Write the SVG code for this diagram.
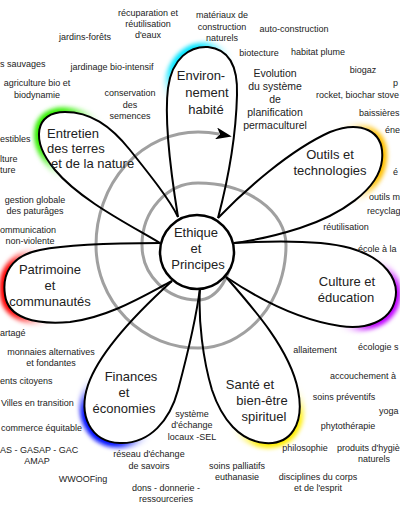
<svg xmlns="http://www.w3.org/2000/svg" xmlns:xlink="http://www.w3.org/1999/xlink" width="400" height="516" viewBox="0 0 400 516">
<style>
.petal{fill:none;stroke:#000;stroke-width:2}
.glow{fill:none;stroke-width:10;filter:url(#blur)}
.spiral{fill:none;stroke:#a0a0a0;stroke-width:3}
.lbl{font-family:"Liberation Sans",Arial,sans-serif;font-size:13px;fill:#222;text-anchor:middle}
.s{font-family:"Liberation Sans",Arial,sans-serif;font-size:9px;fill:#222;text-anchor:middle}
.l{text-anchor:start}
.m{font-family:"Liberation Sans",Arial,sans-serif;font-size:10.5px;fill:#222;text-anchor:middle}
</style>
<defs>
<filter id="blur" x="-20%" y="-20%" width="140%" height="140%"><feGaussianBlur stdDeviation="2.2"/></filter>
<filter id="soft" x="-50%" y="-50%" width="200%" height="200%"><feGaussianBlur stdDeviation="9"/></filter>
<marker id="arr" viewBox="0 0 16 12" refX="3" refY="6" markerWidth="16" markerHeight="12" markerUnits="userSpaceOnUse" orient="auto"><path d="M0,0 L16,6 L0,12 L4,6 Z" fill="#000"/></marker>
<path id="pEnv" d="M178,217 C172,180 164,120 168,88 C172,58 190,46 208,47 C228,49 238,65 237,95 C236,135 228,180 218,218"/>
<path id="pEnt" d="M160,243 C130,225 80,200 55,170 C30,140 35,112 65,112 C90,112 110,125 130,150 C150,175 170,200 178,217"/>
<path id="pOut" d="M218,218 C245,190 290,150 330,132 C360,120 385,130 382,160 C379,190 340,215 300,228 C275,236 258,240 234,243"/>
<path id="pCul" d="M234,243 C270,241 320,240 350,248 C385,258 400,280 395,300 C390,322 365,330 340,326 C300,320 260,300 226,277"/>
<path id="pSan" d="M226,277 C255,310 290,350 298,390 C305,425 290,445 265,443 C240,441 222,420 212,390 C203,360 198,320 200,288"/>
<path id="pFin" d="M172,281 C140,310 100,350 88,385 C78,415 90,442 120,443 C150,444 170,420 178,390 C186,360 196,320 200,288"/>
<path id="pPat" d="M160,243 C120,243 70,244 40,250 C10,256 2,275 5,295 C8,318 35,325 70,322 C110,317 145,295 172,281"/>
<mask id="mEnv" maskUnits="userSpaceOnUse" x="0" y="0" width="400" height="516"><circle cx="186" cy="58" r="30" fill="#fff" filter="url(#soft)"/><use xlink:href="#pEnv" fill="#000"/></mask>
<mask id="mEnt" maskUnits="userSpaceOnUse" x="0" y="0" width="400" height="516"><circle cx="48" cy="128" r="36" fill="#fff" filter="url(#soft)"/><use xlink:href="#pEnt" fill="#000"/></mask>
<mask id="mOut" maskUnits="userSpaceOnUse" x="0" y="0" width="400" height="516"><circle cx="382" cy="158" r="36" fill="#fff" filter="url(#soft)"/><use xlink:href="#pOut" fill="#000"/></mask>
<mask id="mCul" maskUnits="userSpaceOnUse" x="0" y="0" width="400" height="516"><circle cx="390" cy="310" r="36" fill="#fff" filter="url(#soft)"/><use xlink:href="#pCul" fill="#000"/></mask>
<mask id="mSan" maskUnits="userSpaceOnUse" x="0" y="0" width="400" height="516"><circle cx="283" cy="438" r="36" fill="#fff" filter="url(#soft)"/><use xlink:href="#pSan" fill="#000"/></mask>
<mask id="mFin" maskUnits="userSpaceOnUse" x="0" y="0" width="400" height="516"><circle cx="98" cy="430" r="36" fill="#fff" filter="url(#soft)"/><use xlink:href="#pFin" fill="#000"/></mask>
<mask id="mPat" maskUnits="userSpaceOnUse" x="0" y="0" width="400" height="516"><circle cx="8" cy="290" r="36" fill="#fff" filter="url(#soft)"/><use xlink:href="#pPat" fill="#000"/></mask>
</defs>
<rect width="400" height="516" fill="#fff"/>

<g id="connectors">
<path class="spiral" marker-end="url(#arr)" d="M233,245 A35,55 0 0 1 198,300 A56,55 0 0 1 142,245 A56,62 0 0 1 198,183 A88,62 0 0 1 286,245 A88,103 0 0 1 198,348 A102,103 0 0 1 96,245 A102,113 0 0 1 198,132 A110,113 0 0 1 219,134"/>
</g>

<g id="environnement">
<use xlink:href="#pEnv" class="glow" stroke="#00e5ff" mask="url(#mEnv)"/>
<use xlink:href="#pEnv" class="petal"/>
<text class="lbl" x="201" y="80">Environ-</text>
<text class="lbl" x="207" y="97">nement</text>
<text class="lbl" x="206" y="114">habité</text>
</g>
<g id="entretien">
<use xlink:href="#pEnt" class="glow" stroke="#30f000" mask="url(#mEnt)"/>
<use xlink:href="#pEnt" class="petal"/>
<text class="lbl l" x="47" y="138">Entretien</text>
<text class="lbl l" x="47" y="153">des terres</text>
<text class="lbl l" x="51" y="168">et de la nature</text>
</g>
<g id="outils">
<use xlink:href="#pOut" class="glow" stroke="#ffc000" mask="url(#mOut)"/>
<use xlink:href="#pOut" class="petal"/>
<text class="lbl" x="330" y="159">Outils et</text>
<text class="lbl" x="330" y="175">technologies</text>
</g>
<g id="culture">
<use xlink:href="#pCul" class="glow" stroke="#c000ff" mask="url(#mCul)"/>
<use xlink:href="#pCul" class="petal"/>
<text class="lbl" x="347" y="286">Culture et</text>
<text class="lbl" x="346" y="302">éducation</text>
</g>
<g id="sante">
<use xlink:href="#pSan" class="glow" stroke="#ffee00" mask="url(#mSan)"/>
<use xlink:href="#pSan" class="petal"/>
<text class="lbl" x="250" y="389">Santé et</text>
<text class="lbl" x="262" y="405">bien-être</text>
<text class="lbl" x="264" y="421">spirituel</text>
</g>
<g id="finances">
<use xlink:href="#pFin" class="glow" stroke="#0010ff" mask="url(#mFin)"/>
<use xlink:href="#pFin" class="petal"/>
<text class="lbl" x="131" y="381">Finances</text>
<text class="lbl" x="124" y="397">et</text>
<text class="lbl" x="124" y="413">économies</text>
</g>
<g id="patrimoine">
<use xlink:href="#pPat" class="glow" stroke="#ff0000" mask="url(#mPat)"/>
<use xlink:href="#pPat" class="petal"/>
<text class="lbl" x="50" y="274">Patrimoine</text>
<text class="lbl" x="50" y="290">et</text>
<text class="lbl" x="50" y="306">communautés</text>
</g>
<g id="ethique">
<circle cx="197" cy="252" r="37" fill="#fff" stroke="#000" stroke-width="2.5"/>
<text class="lbl" x="196" y="237">Ethique</text>
<text class="lbl" x="196" y="253">et</text>
<text class="lbl" x="198" y="269">Principes</text>
</g>
<g id="evolution">
<text class="m" x="275" y="77">Evolution</text>
<text class="m" x="275" y="90">du système</text>
<text class="m" x="275" y="103">de</text>
<text class="m" x="275" y="116">planification</text>
<text class="m" x="275" y="129">permaculturel</text>
</g>
<g id="keywords">
<text class="s" x="148" y="16">récuparation et</text>
<text class="s" x="148" y="27">réutilisation</text>
<text class="s" x="148" y="38">d'eaux</text>
<text class="s" x="85" y="40">jardins-forêts</text>
<text class="s l" x="0" y="67">s sauvages</text>
<text class="s" x="112" y="70">jardinage bio-intensif</text>
<text class="s" x="37" y="86">agriculture bio et</text>
<text class="s" x="37" y="98">biodynamie</text>
<text class="s" x="130" y="96">conservation</text>
<text class="s" x="130" y="108">des</text>
<text class="s" x="130" y="119">semences</text>
<text class="s" x="222" y="18">matériaux de</text>
<text class="s" x="222" y="30">construction</text>
<text class="s" x="222" y="41">naturels</text>
<text class="s" x="294" y="32">auto-construction</text>
<text class="s" x="259" y="56">biotecture</text>
<text class="s" x="318" y="55">habitat plume</text>
<text class="s" x="363" y="73">biogaz</text>
<text class="s l" x="393" y="86">p</text>
<text class="s l" x="316" y="98">rocket, biochar stove</text>
<text class="s l" x="359" y="116">baissières</text>
<text class="s l" x="385" y="133">éne</text>
<text class="s l" x="393" y="175">é</text>
<text class="s l" x="369" y="200">outils m</text>
<text class="s l" x="367" y="214">recyclag</text>
<text class="s" x="346" y="230">réutilisation</text>
<text class="s l" x="358" y="252">école à la</text>
<text class="s l" x="0" y="142">estibles</text>
<text class="s l" x="0" y="162">lture</text>
<text class="s l" x="0" y="173">ture</text>
<text class="s" x="35" y="203">gestion globale</text>
<text class="s" x="35" y="214">des paturâges</text>
<text class="s l" x="0" y="233">ommunication</text>
<text class="s" x="30" y="244">non-violente</text>
<text class="s l" x="0" y="336">artagé</text>
<text class="s" x="51" y="355">monnaies alternatives</text>
<text class="s" x="51" y="366">et fondantes</text>
<text class="s l" x="0" y="384">ents citoyens</text>
<text class="s l" x="1" y="406">Villes en transition</text>
<text class="s l" x="1" y="431">commerce équitable</text>
<text class="s l" x="0" y="453">AS - GASAP - GAC</text>
<text class="s" x="37" y="464">AMAP</text>
<text class="s" x="83" y="482">WWOOFing</text>
<text class="s" x="149" y="457">réseau d'échange</text>
<text class="s" x="149" y="469">de savoirs</text>
<text class="s" x="166" y="491">dons - donnerie -</text>
<text class="s" x="166" y="502">ressourceries</text>
<text class="s" x="192" y="417">système</text>
<text class="s" x="192" y="428">d'échange</text>
<text class="s" x="192" y="440">locaux -SEL</text>
<text class="s" x="315" y="353">allaitement</text>
<text class="s l" x="358" y="350">écologie s</text>
<text class="s l" x="330" y="379">accouchement à</text>
<text class="s" x="344" y="400">soins préventifs</text>
<text class="s l" x="379" y="414">yoga</text>
<text class="s" x="348" y="429">phytothérapie</text>
<text class="s" x="305" y="451">philosophie</text>
<text class="s l" x="337" y="451">produits d'hygiè</text>
<text class="s" x="374" y="462">naturels</text>
<text class="s" x="237" y="469">soins palliatifs</text>
<text class="s" x="237" y="480">euthanasie</text>
<text class="s" x="318" y="480">disciplines du corps</text>
<text class="s" x="318" y="491">et de l'esprit</text>
</g>
</svg>
